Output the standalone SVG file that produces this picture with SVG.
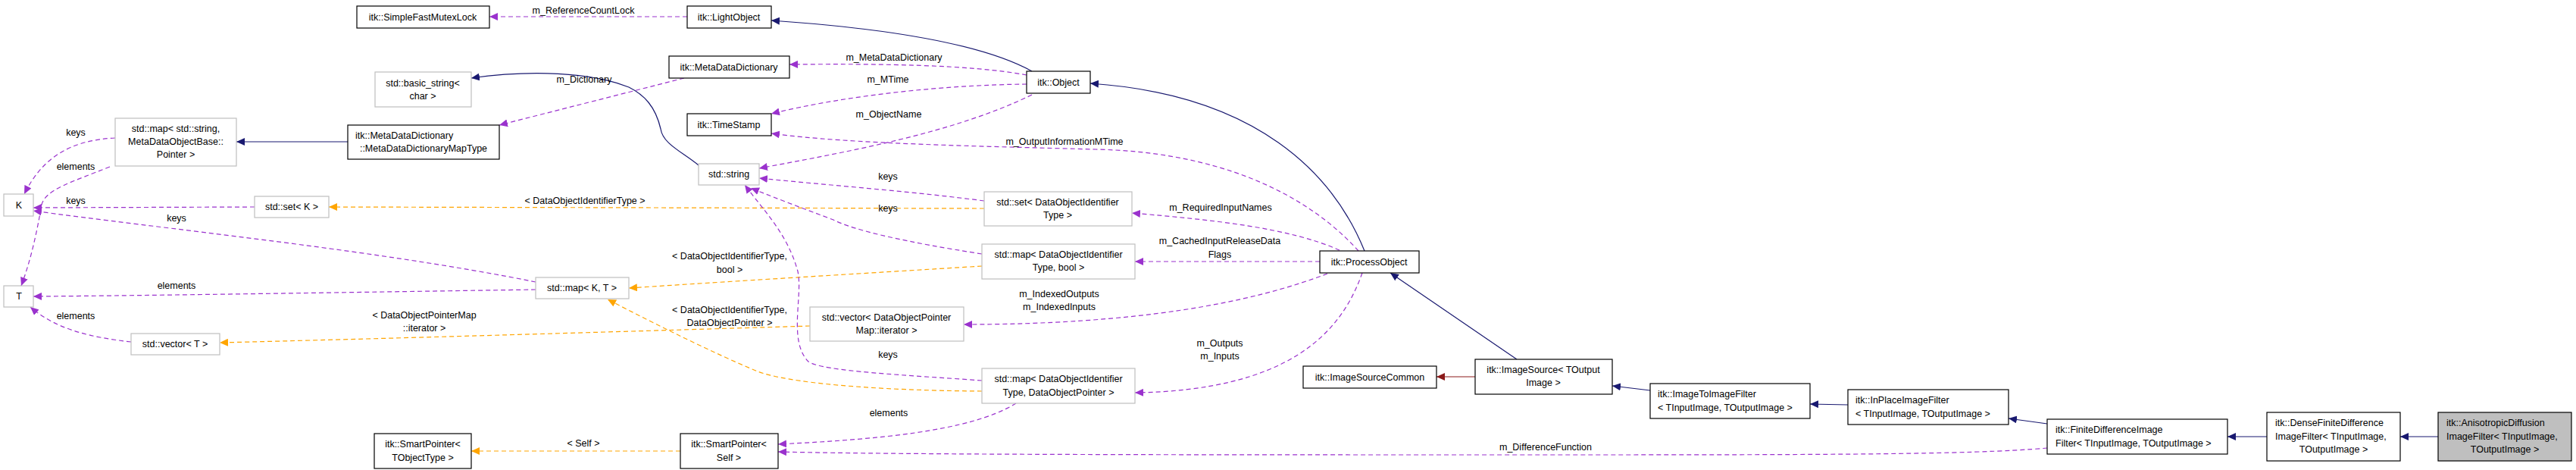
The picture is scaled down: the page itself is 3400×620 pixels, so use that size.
<svg xmlns="http://www.w3.org/2000/svg" width="3400" height="620" viewBox="0 0 3400 620">
<style>
text{font-family:"Liberation Sans",Arial,sans-serif;font-size:12.5px;fill:#000}
.n text,.lb{text-anchor:middle}
.b{fill:#fff;stroke:#000;stroke-width:1.2}
.g{fill:#fff;stroke:#bfbfbf;stroke-width:1.2}
.inh{fill:none;stroke:#191970;stroke-width:1.2;marker-end:url(#ab)}
.red{fill:none;stroke:#8b1a1a;stroke-width:1.2;marker-end:url(#ar)}
.use{fill:none;stroke:#9a32cd;stroke-width:1.2;stroke-dasharray:6,4;marker-end:url(#ap)}
.tpl{fill:none;stroke:#ffa500;stroke-width:1.2;stroke-dasharray:6,4;marker-end:url(#ao)}
</style>
<defs>
<marker id="ab" markerWidth="12" markerHeight="10" refX="11" refY="5" orient="auto" markerUnits="userSpaceOnUse"><path d="M0,0 L11,5 L0,10 z" fill="#191970"/></marker>
<marker id="ar" markerWidth="12" markerHeight="10" refX="11" refY="5" orient="auto" markerUnits="userSpaceOnUse"><path d="M0,0 L11,5 L0,10 z" fill="#8b1a1a"/></marker>
<marker id="ap" markerWidth="12" markerHeight="10" refX="11" refY="5" orient="auto" markerUnits="userSpaceOnUse"><path d="M0,0 L11,5 L0,10 z" fill="#9a32cd"/></marker>
<marker id="ao" markerWidth="12" markerHeight="10" refX="11" refY="5" orient="auto" markerUnits="userSpaceOnUse"><path d="M0,0 L11,5 L0,10 z" fill="#ffa500"/></marker>
</defs>
<rect width="3400" height="620" fill="#fff"/>
<g id="edges">
<path class="use" d="M907,22 L646,22"/>
<path class="inh" d="M1362,94 C1300,60 1180,38 1018,27"/>
<path class="use" d="M1355,99 C1280,85 1160,84 1042,85"/>
<path class="use" d="M1355,111 C1250,112 1120,125 1018,150"/>
<path class="use" d="M1362,125 C1260,175 1120,200 1002,222"/>
<path class="inh" d="M1801,331 C1760,230 1660,125 1439,110"/>
<path class="use" d="M1793,331 C1720,250 1600,200 1446,197 C1300,193 1120,190 1018,176"/>
<path class="use" d="M1768,330 C1700,300 1600,290 1494,281"/>
<path class="use" d="M1742,345 L1498,345" stroke-width="1.8"/>
<path class="use" d="M1752,361 C1650,400 1500,428 1272,428"/>
<path class="use" d="M1798,360 C1770,440 1700,515 1498,518"/>
<path class="inh" d="M922,218 C900,200 875,190 872,170 C865,140 850,125 830,115 C780,95 700,92 622,103"/>
<path class="use" d="M903,103 L659,165"/>
<path class="inh" d="M459,187 L312,187"/>
<path class="use" d="M152,182 C90,185 55,210 32,256"/>
<path class="use" d="M145,220 C95,240 60,250 55,270 C48,310 40,345 28,377"/>
<path class="use" d="M336,273 L44,274"/>
<path class="use" d="M707,372 C500,330 200,300 44,278"/>
<path class="use" d="M707,382 C500,385 200,390 44,391"/>
<path class="use" d="M173,451 C120,445 75,435 40,405"/>
<path class="tpl" d="M1299,275 L434,273"/>
<path class="use" d="M1299,265 C1200,252 1100,245 1002,235"/>
<path class="use" d="M1296,335 C1200,320 1130,305 1100,290 C1060,275 1020,260 991,248"/>
<path class="tpl" d="M1296,351 C1150,360 950,372 830,380"/>
<path class="use" d="M1296,502 C1200,495 1085,490 1067,477 C1040,450 1060,390 1053,358 C1040,310 1010,280 983,244"/>
<path class="tpl" d="M1296,516 C1150,515 1040,505 1000,490 C940,465 870,430 802,395"/>
<path class="tpl" d="M1069,430 C800,438 500,447 290,452"/>
<path class="use" d="M1341,532 C1280,570 1150,580 1027,586"/>
<path class="tpl" d="M898,595 L622,595"/>
<path class="use" d="M2702,591 C2600,600 2400,600 2000,600 C1600,600 1200,600 1027,596"/>
<path class="inh" d="M2002,474 L1835,360"/>
<path class="red" d="M1947,497 L1896,497"/>
<path class="inh" d="M2178,515 L2128,509"/>
<path class="inh" d="M2439,534 L2389,533"/>
<path class="inh" d="M2702,559 L2651,552"/>
<path class="inh" d="M2992,576 L2940,576"/>
<path class="inh" d="M3218,576 L3168,576"/>
<g class="lb">
<text x="770" y="18">m_ReferenceCountLock</text>
<text x="1180" y="80">m_MetaDataDictionary</text>
<text x="1172" y="109">m_MTime</text>
<text x="1173" y="155">m_ObjectName</text>
<text x="1405" y="191">m_OutputInformationMTime</text>
<text x="1611" y="278">m_RequiredInputNames</text>
<text x="1610" y="322">m_CachedInputReleaseData</text>
<text x="1610" y="340">Flags</text>
<text x="1398" y="392">m_IndexedOutputs</text>
<text x="1398" y="409">m_IndexedInputs</text>
<text x="1610" y="457">m_Outputs</text>
<text x="1610" y="474">m_Inputs</text>
<text x="771" y="109">m_Dictionary</text>
<text x="100" y="179">keys</text>
<text x="100" y="224">elements</text>
<text x="100" y="269">keys</text>
<text x="233" y="292">keys</text>
<text x="233" y="381">elements</text>
<text x="100" y="421">elements</text>
<text x="772" y="269">&lt; DataObjectIdentifierType &gt;</text>
<text x="1172" y="237">keys</text>
<text x="1172" y="279">keys</text>
<text x="963" y="342">&lt; DataObjectIdentifierType,</text>
<text x="963" y="360">bool &gt;</text>
<text x="1172" y="472">keys</text>
<text x="963" y="413">&lt; DataObjectIdentifierType,</text>
<text x="963" y="430">DataObjectPointer &gt;</text>
<text x="560" y="420">&lt; DataObjectPointerMap</text>
<text x="560" y="437">::iterator &gt;</text>
<text x="1173" y="549">elements</text>
<text x="770" y="589">&lt; Self &gt;</text>
<text x="2040" y="594">m_DifferenceFunction</text>
</g>
</g>
<g class="n">
<g id="n_mutex"><rect class="b" x="471" y="8" width="175" height="29"/><text x="558" y="27">itk::SimpleFastMutexLock</text></g>
<g id="n_light"><rect class="b" x="907" y="8" width="111" height="29"/><text x="962" y="27">itk::LightObject</text></g>
<g id="n_mdd"><rect class="b" x="883" y="74" width="159" height="29"/><text x="962" y="93">itk::MetaDataDictionary</text></g>
<g id="n_object"><rect class="b" x="1355" y="94" width="84" height="29"/><text x="1397" y="113">itk::Object</text></g>
<g id="n_basic"><rect class="g" x="495" y="95" width="127" height="46"/><text x="558" y="114">std::basic_string&lt;</text><text x="558" y="131">char &gt;</text></g>
<g id="n_ts"><rect class="b" x="907" y="150" width="111" height="29"/><text x="962" y="169">itk::TimeStamp</text></g>
<g id="n_mapstr"><rect class="g" x="152" y="156" width="160" height="63"/><text x="232" y="174">std::map&lt; std::string,</text><text x="232" y="191">MetaDataObjectBase::</text><text x="232" y="208">Pointer &gt;</text></g>
<g id="n_mapty"><rect class="b" x="459" y="165" width="200" height="45"/><text x="469" y="183" style="text-anchor:start">itk::MetaDataDictionary</text><text x="559" y="200">::MetaDataDictionaryMapType</text></g>
<g id="n_string"><rect class="g" x="922" y="216" width="80" height="28"/><text x="962" y="234">std::string</text></g>
<g id="n_K"><rect class="g" x="5" y="256" width="39" height="29"/><text x="25" y="275">K</text></g>
<g id="n_setK"><rect class="g" x="336" y="259" width="98" height="28"/><text x="385" y="277">std::set&lt; K &gt;</text></g>
<g id="n_setD"><rect class="g" x="1299" y="253" width="195" height="45"/><text x="1396" y="271">std::set&lt; DataObjectIdentifier</text><text x="1396" y="288">Type &gt;</text></g>
<g id="n_mapB"><rect class="g" x="1296" y="322" width="202" height="46"/><text x="1397" y="340">std::map&lt; DataObjectIdentifier</text><text x="1397" y="357">Type, bool &gt;</text></g>
<g id="n_proc"><rect class="b" x="1742" y="331" width="131" height="29"/><text x="1807" y="350">itk::ProcessObject</text></g>
<g id="n_mapKT"><rect class="g" x="707" y="366" width="123" height="28"/><text x="768" y="384">std::map&lt; K, T &gt;</text></g>
<g id="n_T"><rect class="g" x="5" y="377" width="39" height="28"/><text x="25" y="395">T</text></g>
<g id="n_vecD"><rect class="g" x="1069" y="405" width="203" height="45"/><text x="1170" y="423">std::vector&lt; DataObjectPointer</text><text x="1170" y="440">Map::iterator &gt;</text></g>
<g id="n_vecT"><rect class="g" x="173" y="440" width="117" height="28"/><text x="231" y="458">std::vector&lt; T &gt;</text></g>
<g id="n_isc"><rect class="b" x="1720" y="483" width="176" height="29"/><text x="1808" y="502">itk::ImageSourceCommon</text></g>
<g id="n_is"><rect class="b" x="1947" y="474" width="181" height="46"/><text x="2037" y="492">itk::ImageSource&lt; TOutput</text><text x="2037" y="509">Image &gt;</text></g>
<g id="n_mapP"><rect class="g" x="1296" y="486" width="202" height="46"/><text x="1397" y="504">std::map&lt; DataObjectIdentifier</text><text x="1397" y="522">Type, DataObjectPointer &gt;</text></g>
<g id="n_i2i"><rect class="b" x="2178" y="506" width="211" height="46"/><text x="2188" y="524" style="text-anchor:start">itk::ImageToImageFilter</text><text x="2188" y="542" style="text-anchor:start">&lt; TInputImage, TOutputImage &gt;</text></g>
<g id="n_inp"><rect class="b" x="2439" y="514" width="212" height="46"/><text x="2449" y="532" style="text-anchor:start">itk::InPlaceImageFilter</text><text x="2449" y="550" style="text-anchor:start">&lt; TInputImage, TOutputImage &gt;</text></g>
<g id="n_fd"><rect class="b" x="2702" y="553" width="238" height="46"/><text x="2713" y="571" style="text-anchor:start">itk::FiniteDifferenceImage</text><text x="2713" y="589" style="text-anchor:start">Filter&lt; TInputImage, TOutputImage &gt;</text></g>
<g id="n_dense"><rect class="b" x="2992" y="544" width="176" height="64"/><text x="3003" y="562" style="text-anchor:start">itk::DenseFiniteDifference</text><text x="3003" y="580" style="text-anchor:start">ImageFilter&lt; TInputImage,</text><text x="3080" y="597">TOutputImage &gt;</text></g>
<g id="n_aniso"><rect x="3218" y="544" width="176" height="64" fill="#bfbfbf" stroke="#000" stroke-width="1.2"/><text x="3229" y="562" style="text-anchor:start">itk::AnisotropicDiffusion</text><text x="3229" y="580" style="text-anchor:start">ImageFilter&lt; TInputImage,</text><text x="3306" y="597">TOutputImage &gt;</text></g>
<g id="n_spT"><rect class="b" x="494" y="572" width="128" height="46"/><text x="558" y="590">itk::SmartPointer&lt;</text><text x="558" y="608">TObjectType &gt;</text></g>
<g id="n_spS"><rect class="b" x="898" y="572" width="129" height="46"/><text x="962" y="590">itk::SmartPointer&lt;</text><text x="962" y="608">Self &gt;</text></g>
</g>
</svg>
